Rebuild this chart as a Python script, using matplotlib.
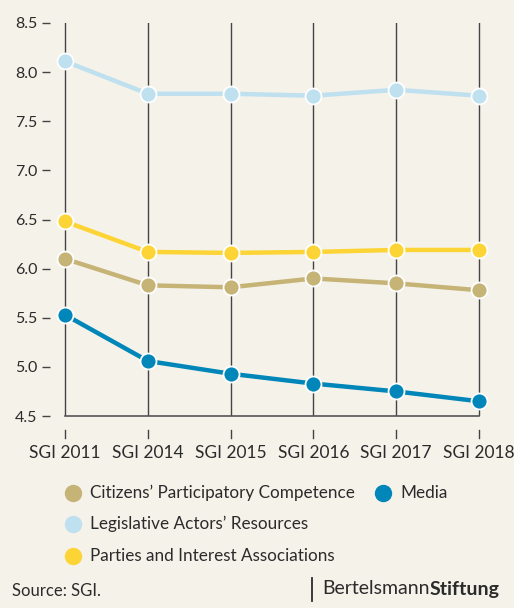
import matplotlib
matplotlib.use("Agg")
import matplotlib.pyplot as plt
from matplotlib.lines import Line2D
import matplotlib.transforms as mtransforms

plt.rcParams['font.family'] = ['Lato', 'DejaVu Sans']

# -------------------------------------------------------------
years = ["SGI 2011", "SGI 2014", "SGI 2015", "SGI 2016", "SGI 2017", "SGI 2018"]

citizens    = [6.10, 5.83, 5.81, 5.90, 5.85, 5.78]
legislative = [8.11, 7.78, 7.78, 7.76, 7.82, 7.76]
parties     = [6.48, 6.17, 6.16, 6.17, 6.19, 6.19]
media       = [5.53, 5.06, 4.93, 4.83, 4.75, 4.65]

names  = ["Citizens\u2019 Participatory Competence", "Legislative Actors\u2019 Resources",
          "Parties and Interest Associations", "Media"]
series = [citizens, legislative, parties, media]
colors = ["#c6b376", "#bfe0ef", "#fdd435", "#0086b8"]

bg = "#f5f2ea"
ink = "#2b2b2b"

# -------------------------------------------------------------
W, H = 514, 608
step = 82.8
fig = plt.figure(figsize=(W/100, H/100), dpi=100, facecolor=bg)
ax = fig.add_axes([50/W, 1-416/H, 450/W, 393/H], facecolor=bg)

x = list(range(len(years)))
ax.set_xlim(-15/step, 5 + (500 - 65 - 5*step)/step)
ax.set_ylim(4.5, 8.5)

for xi in x:
    ax.axvline(xi, color="#444444", lw=1, zorder=1)
ax.plot([0, 5], [4.5, 4.5], color="#555555", lw=1.2, zorder=1, clip_on=False)

# tick marks under the axis, with a gap
trans = mtransforms.blended_transform_factory(ax.transData, ax.transAxes)
for xi in x:
    ax.plot([xi, xi], [-14/393, -22/393], color="#444444", lw=1, transform=trans, clip_on=False)
    ax.text(xi, -37/393, years[xi], transform=trans, ha="center", va="center",
            fontsize=12.5, color=ink)

for s, c in zip(series, colors):
    ax.plot(x, s, color=c, lw=3.2, marker="o", markersize=11.5,
            markerfacecolor=c, markeredgecolor="white", markeredgewidth=1.3,
            zorder=3, clip_on=False)

for sp in ax.spines.values():
    sp.set_visible(False)
ax.set_xticks([])
ax.set_yticks([4.5, 5.0, 5.5, 6.0, 6.5, 7.0, 7.5, 8.0, 8.5])
ax.set_yticklabels(["4.5", "5.0", "5.5", "6.0", "6.5", "7.0", "7.5", "8.0", "8.5"])
ax.tick_params(axis="y", direction="out", length=6, width=1, color="#444444",
               labelsize=11.5, labelcolor=ink, pad=3)

# -------------------------------------------------------------
# legend: first column three entries, second column "Media"
leg_pos = [(73, 493), (73, 524), (73, 556), (383, 493)]
for (px, py), name, c in zip(leg_pos, names, colors):
    fig.add_artist(Line2D([px/W], [1-py/H], ls="none", marker="o", markersize=11.5,
                          color=c))
    fig.text((px+17)/W, 1-py/H, name, fontsize=12.3, color=ink, va="center", ha="left")

fig.text(12/W, 1-591/H, "Source: SGI.", fontsize=12, color=ink, va="center", ha="left")
fig.add_artist(Line2D([312/W, 312/W], [1-578/H, 1-601/H], color=ink, lw=1.3))
t1 = fig.text(322/W, 1-589/H, "Bertelsmann", fontsize=14, color=ink, va="center", ha="left")
fig.canvas.draw()
bb = t1.get_window_extent()
fig.text(bb.x1/W, 1-589/H, "Stiftung", fontsize=14, color=ink, va="center", ha="left",
         fontweight="bold")

fig.savefig("out.png", dpi=100, facecolor=bg)
